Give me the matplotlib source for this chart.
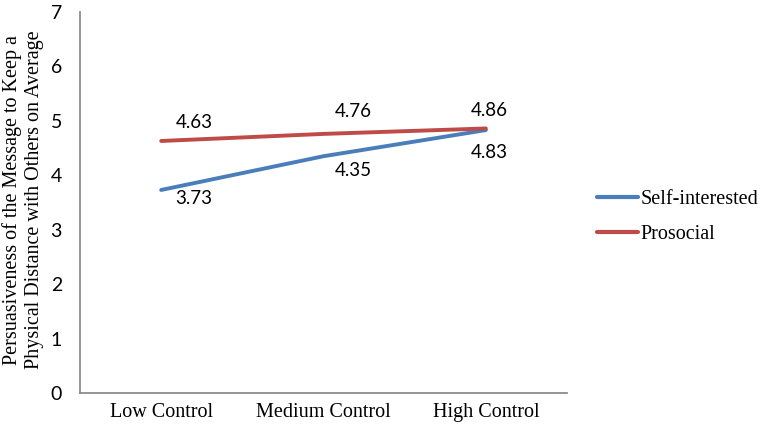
import matplotlib
matplotlib.use("Agg")
import matplotlib.pyplot as plt
import numpy as np

categories = ["Low Control", "Medium Control", "High Control"]
self_interested = [3.73, 4.35, 4.83]
prosocial = [4.63, 4.76, 4.86]

# label offsets in pixels (dx, dy), as placed in the original
self_offsets = [(33, -9), (30, -14), (3, -22)]
pro_offsets = [(33, 18), (30, 22), (3, 18)]

blue = "#4A7EBB"
red = "#BE4B48"
serif = "Liberation Serif"
sans = "Lato"

fig = plt.figure(figsize=(7.65, 4.34), dpi=100)
ax = fig.add_axes([0.1046, 0.0945, 0.6366, 0.8779])

x = np.arange(len(categories))
ax.plot(x, self_interested, color=blue, lw=2.8, solid_capstyle="round", label="Self-interested")
ax.plot(x, prosocial, color=red, lw=2.8, solid_capstyle="round", label="Prosocial")

for xi, v, off in zip(x, self_interested, self_offsets):
    ax.annotate(f"{v:.2f}", (xi, v), xytext=off, textcoords="offset pixels",
                ha="center", va="center", fontsize=13.5, family=sans)
for xi, v, off in zip(x, prosocial, pro_offsets):
    ax.annotate(f"{v:.2f}", (xi, v), xytext=off, textcoords="offset pixels",
                ha="center", va="center", fontsize=13.5, family=sans)

ax.set_xlim(-0.5, 2.5)
ax.set_ylim(0, 7)
ax.set_yticks(range(8))
ax.set_xticks(x)
ax.set_xticklabels(categories, family=serif, fontsize=14.5)
for lab in ax.get_yticklabels():
    lab.set_family(sans)
    lab.set_fontsize(14)
ax.tick_params(axis="y", length=0, pad=13)
ax.tick_params(axis="x", length=0, pad=7)

for s in ["top", "right"]:
    ax.spines[s].set_visible(False)
for s in ["left", "bottom"]:
    ax.spines[s].set_color("#8C8C8C")
    ax.spines[s].set_linewidth(1.3)

ax.set_ylabel("Persuasiveness of the Message to Keep a\nPhysical Distance with Others on Average",
              family=serif, fontsize=14.5, linespacing=1.2)
ax.yaxis.set_label_coords(-0.074, 0.507)

leg = fig.legend(loc="center left", bbox_to_anchor=(0.757, 0.50), frameon=False,
                 prop={"family": serif, "size": 14.5}, handlelength=2.0,
                 handletextpad=0.15, labelspacing=0.75)
for h in leg.get_lines():
    h.set_linewidth(3)

fig.savefig("out.png", dpi=100)
